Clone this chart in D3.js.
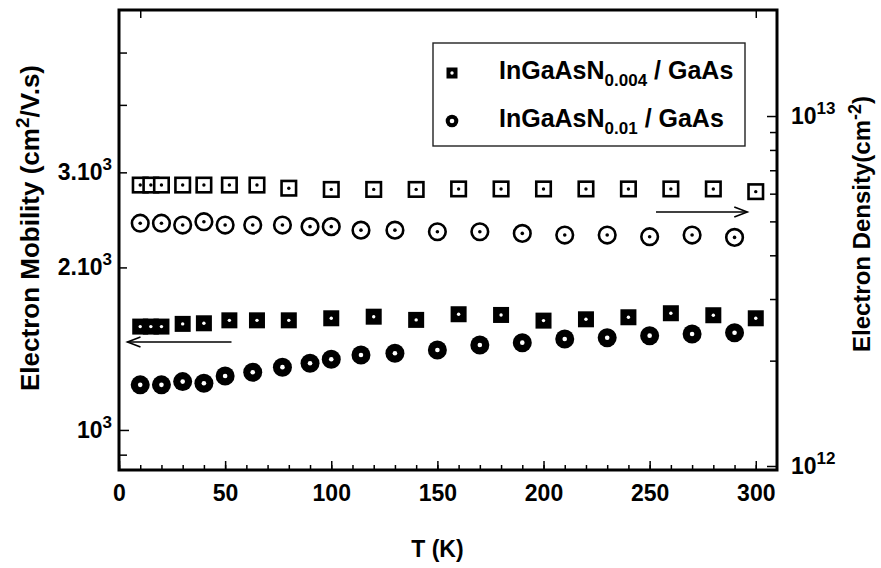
<!DOCTYPE html>
<html>
<head>
<meta charset="utf-8">
<script src="https://cdn.jsdelivr.net/npm/d3@7"></script>
<style>
  html, body { margin: 0; padding: 0; background: #fff; }
  svg { display: block; }
  text { font-family: "Liberation Sans", Arial, sans-serif; font-weight: bold; fill: #000; }
</style>
</head>
<body>
<svg id="chart" width="881" height="568"></svg>
<script>
// Temperatures (K) for each sample series
const tempN004 = [10, 15, 20, 30, 40, 52, 65, 80, 100, 120, 140, 160, 180, 200, 220, 240, 260, 280, 300];
const tempN001 = [10, 20, 30, 40, 50, 63, 77, 90, 100, 114, 130, 150, 170, 190, 210, 230, 250, 270, 290];

// Electron mobility (cm^2/V.s), left axis
const mobilityN004 = [1554, 1554, 1554, 1572, 1576, 1596, 1596, 1596, 1610, 1621, 1599, 1638, 1633, 1594, 1603, 1617, 1645, 1631, 1610];
const mobilityN001 = [1212, 1212, 1229, 1220, 1259, 1279, 1307, 1329, 1352, 1377, 1387, 1406, 1437, 1451, 1474, 1482, 1495, 1506, 1514];

// Electron sheet density (cm^-2), right axis
const densityN004 = [6.35e12, 6.35e12, 6.35e12, 6.35e12, 6.35e12, 6.35e12, 6.35e12, 6.22e12, 6.17e12, 6.17e12, 6.17e12, 6.19e12, 6.19e12, 6.19e12, 6.19e12, 6.19e12, 6.19e12, 6.19e12, 6.08e12];
const densityN001 = [4.94e12, 4.94e12, 4.88e12, 4.99e12, 4.88e12, 4.88e12, 4.88e12, 4.83e12, 4.83e12, 4.72e12, 4.72e12, 4.67e12, 4.67e12, 4.62e12, 4.57e12, 4.57e12, 4.52e12, 4.57e12, 4.50e12];

// Axis ticks
const xMajorTicks = [0, 50, 100, 150, 200, 250, 300];
const xMinorTicks = d3.range(0, 310, 10);
const xTopTicks = [10, 300];
const mobilityTicks = [900, 1000, 2000, 3000, 4000, 5000];
const mobilityLabels = [
  { value: 3000, base: "3.10", exp: "3" },
  { value: 2000, base: "2.10", exp: "3" },
  { value: 1000, base: "10", exp: "3" }
];
const densityTicks = [1e12, 2e12, 3e12, 4e12, 5e12, 6e12, 7e12, 8e12, 9e12, 1e13];
const densityLabels = [
  { value: 1e13, base: "10", exp: "13" },
  { value: 1e12, base: "10", exp: "12" }
];

const svg = d3.select("#chart");
const plot = { left: 119, top: 10, right: 777, bottom: 470 };

const x = d3.scaleLinear().domain([0, 310]).range([plot.left, plot.right]);
const yMob = d3.scaleLog().domain([843, 5995]).range([plot.bottom, plot.top]);
const yDen = d3.scaleLog().domain([9.74e11, 2.009e13]).range([plot.bottom, plot.top]);

// Bottom axis: major and minor inward ticks
const gx = svg.append("g").attr("transform", `translate(0,${plot.bottom})`);
gx.call(d3.axisBottom(x).tickValues(xMinorTicks).tickSize(-5).tickFormat(""));
const gxMaj = svg.append("g").attr("transform", `translate(0,${plot.bottom})`);
gxMaj.call(d3.axisBottom(x).tickValues(xMajorTicks).tickSize(-9).tickPadding(15).tickFormat(d3.format("d")));
gxMaj.selectAll("text").style("font-size", "23px").attr("dy", "0.71em");

// Top axis ticks
svg.append("g").attr("transform", `translate(0,${plot.top})`)
  .call(d3.axisTop(x).tickValues(xTopTicks).tickSize(-8).tickFormat(""));

// Left axis
const gl = svg.append("g").attr("transform", `translate(${plot.left},0)`);
gl.call(d3.axisLeft(yMob).tickValues(mobilityTicks).tickSize(-8).tickFormat(""));
gl.selectAll(".tick line").filter(d => d === 1000).attr("x2", 10);

// Right axis
const gr = svg.append("g").attr("transform", `translate(${plot.right},0)`);
gr.call(d3.axisRight(yDen).tickValues(densityTicks).tickSize(-7).tickFormat(""));
gr.selectAll(".tick line").filter(d => d === 1e12 || d === 1e13).attr("x2", -10);

svg.selectAll(".domain").remove();
svg.selectAll(".tick line").attr("stroke", "#000").attr("stroke-width", 1.5);

// Power-of-ten tick labels
mobilityLabels.forEach(l => {
  const t = svg.append("text").attr("x", 112).attr("y", yMob(l.value) + 8)
    .attr("text-anchor", "end").style("font-size", "23px");
  t.append("tspan").text(l.base);
  t.append("tspan").attr("dy", -10).style("font-size", "17px").text(l.exp);
});
densityLabels.forEach(l => {
  const t = svg.append("text").attr("x", 791).attr("y", yDen(l.value) + 8)
    .attr("text-anchor", "start").style("font-size", "23px");
  t.append("tspan").text(l.base);
  t.append("tspan").attr("dy", -10).style("font-size", "17px").text(l.exp);
});

// Axis titles
svg.append("text").attr("x", x(150)).attr("y", 557).attr("text-anchor", "middle")
  .style("font-size", "23px").text("T (K)");

const lt = svg.append("text").attr("transform", "translate(39,228) rotate(-90)")
  .attr("text-anchor", "middle").style("font-size", "26px");
lt.append("tspan").text("Electron Mobility (cm");
lt.append("tspan").attr("dy", -10).style("font-size", "19px").text("2");
lt.append("tspan").attr("dy", 10).text("/V.s)");

const rt = svg.append("text").attr("transform", "translate(870,224) rotate(-90)")
  .attr("text-anchor", "middle").style("font-size", "24px");
rt.append("tspan").text("Electron Density(cm");
rt.append("tspan").attr("dy", -9).style("font-size", "18px").text("-2");
rt.append("tspan").attr("dy", 9).text(")");

// Marker drawing helpers
function squareMarker(g, cx, cy, size, filled) {
  g.append("rect").attr("x", cx - size / 2).attr("y", cy - size / 2)
    .attr("width", size).attr("height", size)
    .attr("fill", filled ? "#000" : "#fff")
    .attr("stroke", "#000").attr("stroke-width", filled ? 0 : 2.6);
  g.append("circle").attr("cx", cx).attr("cy", cy).attr("r", 1.7)
    .attr("fill", filled ? "#fff" : "#000");
}
function circleMarker(g, cx, cy, r, filled) {
  g.append("circle").attr("cx", cx).attr("cy", cy).attr("r", r)
    .attr("fill", filled ? "#000" : "#fff")
    .attr("stroke", "#000").attr("stroke-width", filled ? 0 : 2.6);
  g.append("circle").attr("cx", cx).attr("cy", cy).attr("r", filled ? 2.3 : 1.8)
    .attr("fill", filled ? "#fff" : "#000");
}

const marks = svg.append("g");
tempN004.forEach((t, i) => squareMarker(marks, x(t), yDen(densityN004[i]), 14.5, false));
tempN001.forEach((t, i) => circleMarker(marks, x(t), yDen(densityN001[i]), 8.3, false));
tempN004.forEach((t, i) => squareMarker(marks, x(t), yMob(mobilityN004[i]), 16, true));
tempN001.forEach((t, i) => circleMarker(marks, x(t), yMob(mobilityN001[i]), 9.5, true));

// Arrows pointing to the axis each group belongs to
function arrow(x1, x2, y) {
  const dir = Math.sign(x2 - x1);
  svg.append("line").attr("x1", x1).attr("y1", y).attr("x2", x2).attr("y2", y)
    .attr("stroke", "#000").attr("stroke-width", 1.6);
  svg.append("path")
    .attr("d", `M${x2 - dir * 13},${y - 5} L${x2},${y} L${x2 - dir * 13},${y + 5}`)
    .attr("fill", "none").attr("stroke", "#000").attr("stroke-width", 1.6);
}
arrow(x(53), x(4), 342);
arrow(x(253), x(296), 212);

// Legend
const lg = svg.append("g");
lg.append("rect").attr("x", 433).attr("y", 43).attr("width", 312).attr("height", 103)
  .attr("fill", "#fff").attr("stroke", "#222").attr("stroke-width", 1.4);
squareMarker(lg, 452, 73, 11, true);
circleMarker(lg, 452, 121, 6.3, true);
const leg1 = lg.append("text").attr("x", 499).attr("y", 79).style("font-size", "25px");
leg1.append("tspan").text("InGaAsN");
leg1.append("tspan").attr("dy", 7).style("font-size", "17px").text("0.004");
leg1.append("tspan").attr("dy", -7).text(" / GaAs");
const leg2 = lg.append("text").attr("x", 499).attr("y", 127).style("font-size", "25px");
leg2.append("tspan").text("InGaAsN");
leg2.append("tspan").attr("dy", 7).style("font-size", "17px").text("0.01");
leg2.append("tspan").attr("dy", -7).text(" / GaAs");

// Plot frame
svg.append("rect").attr("x", plot.left).attr("y", plot.top)
  .attr("width", plot.right - plot.left).attr("height", plot.bottom - plot.top)
  .attr("fill", "none").attr("stroke", "#000").attr("stroke-width", 3);
</script>
</body>
</html>
